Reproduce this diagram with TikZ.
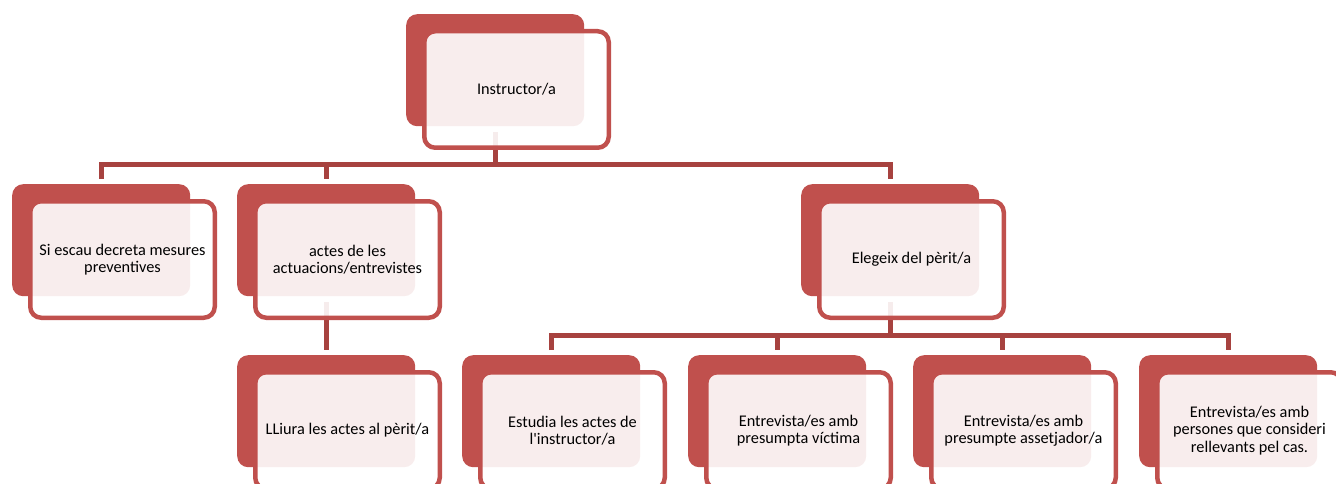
\documentclass[tikz,border=0pt]{standalone}
\usepackage{fontspec}
\setmainfont{Carlito}
\usetikzlibrary{calc}
\definecolor{accred}{HTML}{C0504D}
\definecolor{connred}{HTML}{A7423F}
\pgfdeclarelayer{bg}
\pgfsetlayers{bg,main}
\tikzset{
  backbox/.style={draw=none, fill=accred, rounded corners=11pt, minimum width=178pt, minimum height=112pt, inner sep=0pt, anchor=north west},
  framebox/.style={draw=accred, line width=4.5pt, fill=white, fill opacity=0.9, rounded corners=11pt, minimum width=184.5pt, minimum height=116.5pt, inner sep=0pt},
  lbl/.style={text=black, align=center, font=\fontsize{16.3}{17.5}\selectfont, inner sep=0pt},
  conn/.style={draw=connred, line width=5pt, line join=miter}
}
\newcommand\orgbox[4]{%
  \node[backbox] (#1) at (#2,#3) {};
  \node[framebox] (#1f) at ($(#1.north west)+(110.5,75.5)$) {};
  \node[lbl] (#1t) at (#1f.center) {#4};
}
\begin{document}
\begin{tikzpicture}[x=1pt,y=-1pt]
\useasboundingbox (0,0) rectangle (1336,484);
\clip (0,0) rectangle (1336,484);
\orgbox{inst}{406}{14}{Instructor/a}
\orgbox{si}{12}{184}{Si escau decreta mesures\\preventives}
\orgbox{actes}{237}{184}{actes de les\\actuacions/entrevistes}
\orgbox{eleg}{801}{184}{Elegeix del pèrit/a}
\orgbox{lliura}{237}{355}{LLiura les actes al pèrit/a}
\orgbox{estud}{462}{355}{Estudia les actes de\\l\textquotesingle instructor/a}
\orgbox{vict}{688}{355}{Entrevista/es amb\\presumpta víctima}
\orgbox{asset}{913}{355}{Entrevista/es amb\\presumpte assetjador/a}
\orgbox{pers}{1139}{355}{Entrevista/es amb\\persones que consideri\\rellevants pel cas.}
\coordinate (bus1) at (495,164.5);
\coordinate (bus2) at (890,335.5);
\begin{pgfonlayer}{bg}
\draw[conn] ($(inst.south)+(0,6)$) -- (inst.south |- bus1);
\draw[conn] ($(si.north)+(0,-5)$) -- (si.north |- bus1) -- (eleg.north |- bus1) -- ($(eleg.north)+(0,-5)$);
\draw[conn] (actes.north |- bus1) -- ($(actes.north)+(0,-5)$);
\draw[conn] ($(actes.south)+(0,6)$) -- ($(lliura.north)+(0,-5)$);
\draw[conn] ($(eleg.south)+(0,6)$) -- (eleg.south |- bus2);
\draw[conn] ($(estud.north)+(0,-5)$) -- (estud.north |- bus2) -- (pers.north |- bus2) -- ($(pers.north)+(0,-5)$);
\draw[conn] (vict.north |- bus2) -- ($(vict.north)+(0,-5)$);
\draw[conn] (asset.north |- bus2) -- ($(asset.north)+(0,-5)$);
\end{pgfonlayer}
\end{tikzpicture}
\end{document}
